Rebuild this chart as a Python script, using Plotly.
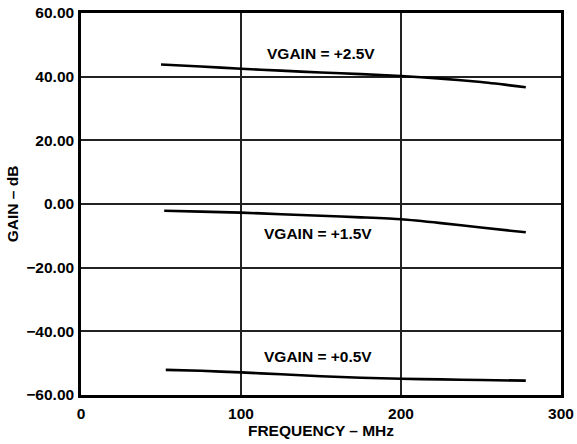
import plotly.graph_objects as go

freq_25 = [50, 75, 100, 125, 150, 175, 200, 225, 250, 278]
gain_25 = [43.8, 43.2, 42.5, 41.9, 41.3, 40.8, 40.2, 39.4, 38.3, 36.7]

freq_15 = [52, 75, 100, 125, 150, 175, 200, 225, 250, 278]
gain_15 = [-2.1, -2.4, -2.7, -3.2, -3.7, -4.2, -4.8, -6.0, -7.4, -8.9]

freq_05 = [53, 75, 100, 125, 150, 175, 200, 225, 250, 278]
gain_05 = [-52.1, -52.4, -52.9, -53.5, -54.1, -54.6, -54.9, -55.1, -55.3, -55.5]

labels = ["VGAIN = +2.5V", "VGAIN = +1.5V", "VGAIN = +0.5V"]
label_x = [150, 148, 148]
label_y = [47.3, -9.3, -48.0]

x_ticks = [0, 100, 200, 300]
y_ticks = [-60, -40, -20, 0, 20, 40, 60]

FONT = "Liberation Sans, Arial, sans-serif"

fig = go.Figure()
for fx, gy in [(freq_25, gain_25), (freq_15, gain_15), (freq_05, gain_05)]:
    fig.add_trace(go.Scatter(x=fx, y=gy, mode="lines",
                             line=dict(color="black", width=2.6, shape="spline", smoothing=0.6),
                             showlegend=False, hoverinfo="skip"))

for t, lx, ly in zip(labels, label_x, label_y):
    fig.add_annotation(x=lx, y=ly, text="<b>%s</b>" % t, showarrow=False,
                       font=dict(family=FONT, size=15.5, color="black"))

fig.update_layout(
    width=577, height=444,
    margin=dict(l=81, r=16, t=13, b=49),
    paper_bgcolor="white", plot_bgcolor="white",
    font=dict(family=FONT, size=15.5, color="black"),
)
fig.update_xaxes(
    range=[0, 300], tickvals=x_ticks, ticktext=["<b>%d</b>" % v for v in x_ticks],
    showgrid=True, gridcolor="#222222", gridwidth=1.5,
    showline=True, linecolor="black", linewidth=2.5, mirror=True,
    zeroline=False, ticks="", ticklabelstandoff=3, automargin=False,
    title=dict(text="<b>FREQUENCY – MHz</b>", font=dict(size=15.5), standoff=4),
)
fig.update_yaxes(
    range=[-60, 60], tickvals=y_ticks,
    ticktext=["<b>%s</b>" % ("%.2f" % v).replace("-", "\u2212") for v in y_ticks],
    showgrid=True, gridcolor="#222222", gridwidth=1.5,
    showline=True, linecolor="black", linewidth=2.5, mirror=True,
    zeroline=False, ticks="", ticklabelstandoff=1, automargin=False,
    title=dict(text="<b>GAIN – dB</b>", font=dict(size=15.5), standoff=4),
)

fig.write_html("out.html", config={"displayModeBar": False},
               post_script="document.body.style.margin='0';document.body.style.overflow='hidden';")
